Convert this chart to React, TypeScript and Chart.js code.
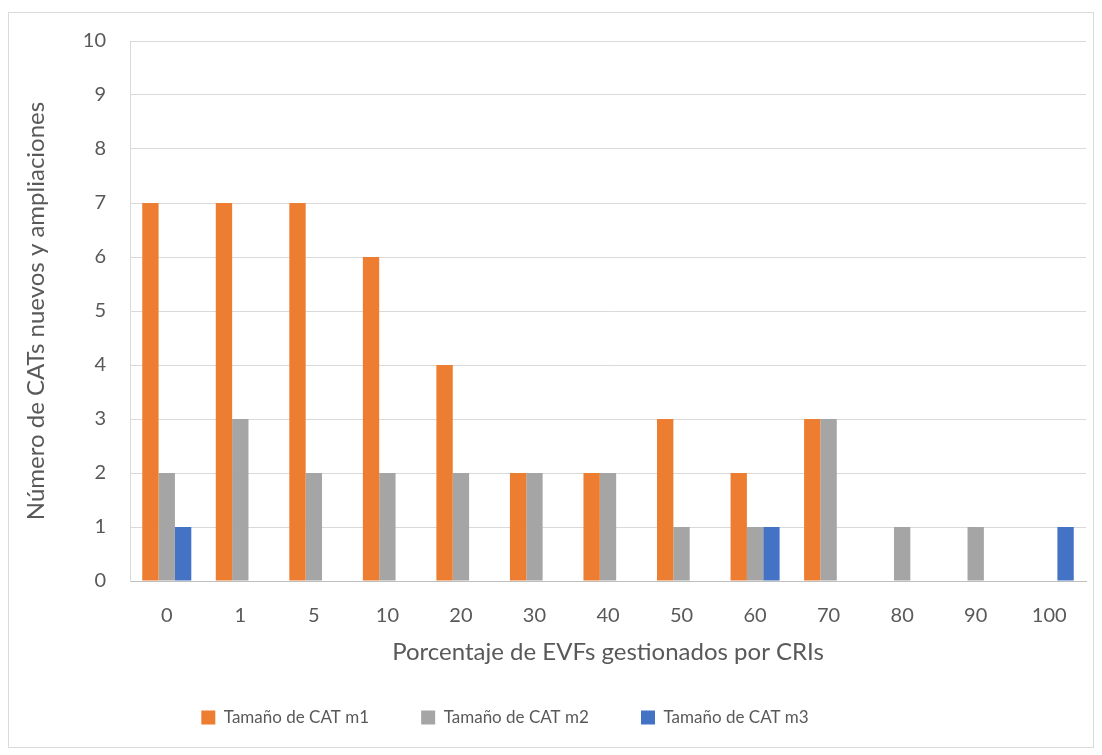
import React, { useEffect, useRef } from "react";
import { Chart, registerables } from "chart.js";

Chart.register(...registerables);

const categories = ["0", "1", "5", "10", "20", "30", "40", "50", "60", "70", "80", "90", "100"];
const seriesM1 = [7, 7, 7, 6, 4, 2, 2, 3, 2, 3, 0, 0, 0];
const seriesM2 = [2, 3, 2, 2, 2, 2, 2, 1, 1, 3, 1, 1, 0];
const seriesM3 = [1, 0, 0, 0, 0, 0, 0, 0, 1, 0, 0, 0, 1];
const seriesNames = ["Tamaño de CAT m1", "Tamaño de CAT m2", "Tamaño de CAT m3"];
const xTitle = "Porcentaje de EVFs gestionados por CRIs";
const yTitle = "Número de CATs nuevos y ampliaciones";

const FONT = "Lato, 'Open Sans', sans-serif";
const TEXT = "#595959";
const GAP = "\u2003\u2003\u2002\u2009";
const TAIL = "\u2003\u2003\u2003\u2003\u2003\u2003\u2002";

export default function App() {
  const ref = useRef<HTMLCanvasElement>(null);
  useEffect(() => {
    if (!ref.current) return;
    const chart = new Chart(ref.current, {
      type: "bar",
      data: {
        labels: categories,
        datasets: [
          { label: seriesNames[0], data: seriesM1, backgroundColor: "#ED7D31" },
          { label: seriesNames[1], data: seriesM2, backgroundColor: "#A5A5A5" },
          { label: seriesNames[2], data: seriesM3, backgroundColor: "#4472C4" },
        ],
      },
      options: {
        animation: false,
        responsive: false,
        maintainAspectRatio: false,
        layout: { padding: { left: 0, right: 7, top: 28, bottom: 11 } },
        datasets: { bar: { categoryPercentage: 0.667, barPercentage: 1 } },
        plugins: {
          tooltip: { enabled: false },
          legend: {
            position: "bottom",
            labels: {
              boxWidth: 14,
              boxHeight: 14,
              padding: 16,
              color: TEXT,
              font: { family: FONT, size: 17 },
              generateLabels: (c: any) => {
                const items = Chart.defaults.plugins.legend.labels.generateLabels(c);
                return items.map((it: any, i: number) => ({
                  ...it,
                  text: it.text + (i < items.length - 1 ? GAP : TAIL),
                }));
              },
            },
          },
        },
        scales: {
          x: {
            grid: { display: false, drawTicks: false },
            border: { display: true, color: "#BFBFBF", width: 1 },
            ticks: { color: TEXT, font: { family: FONT, size: 20 }, padding: 23, maxRotation: 0 },
            title: {
              display: true,
              text: xTitle,
              color: TEXT,
              font: { family: FONT, size: 24 },
              padding: { top: 10, bottom: 26 },
            },
            afterFit: (s: any) => {
              s.height = 112;
            },
          },
          y: {
            min: 0,
            max: 10,
            grid: { color: "#D9D9D9", drawTicks: false },
            border: { display: true, color: "#D9D9D9" },
            ticks: { stepSize: 1, color: TEXT, font: { family: FONT, size: 20 }, padding: 24 },
            title: {
              display: true,
              text: yTitle,
              color: TEXT,
              font: { family: FONT, size: 24 },
              padding: { top: 13, bottom: 0 },
            },
            afterFit: (s: any) => {
              s.width = 121;
              s.paddingTop = 12;
              s.paddingBottom = 12;
            },
          },
        },
      },
    });
    return () => chart.destroy();
  }, []);
  return (
    <div
      style={{
        position: "absolute",
        left: 8,
        top: 12,
        width: 1086,
        height: 736,
        border: "1px solid #D9D9D9",
        boxSizing: "border-box",
        background: "#fff",
      }}
    >
      <canvas ref={ref} width={1084} height={734} style={{ display: "block" }} />
    </div>
  );
}
